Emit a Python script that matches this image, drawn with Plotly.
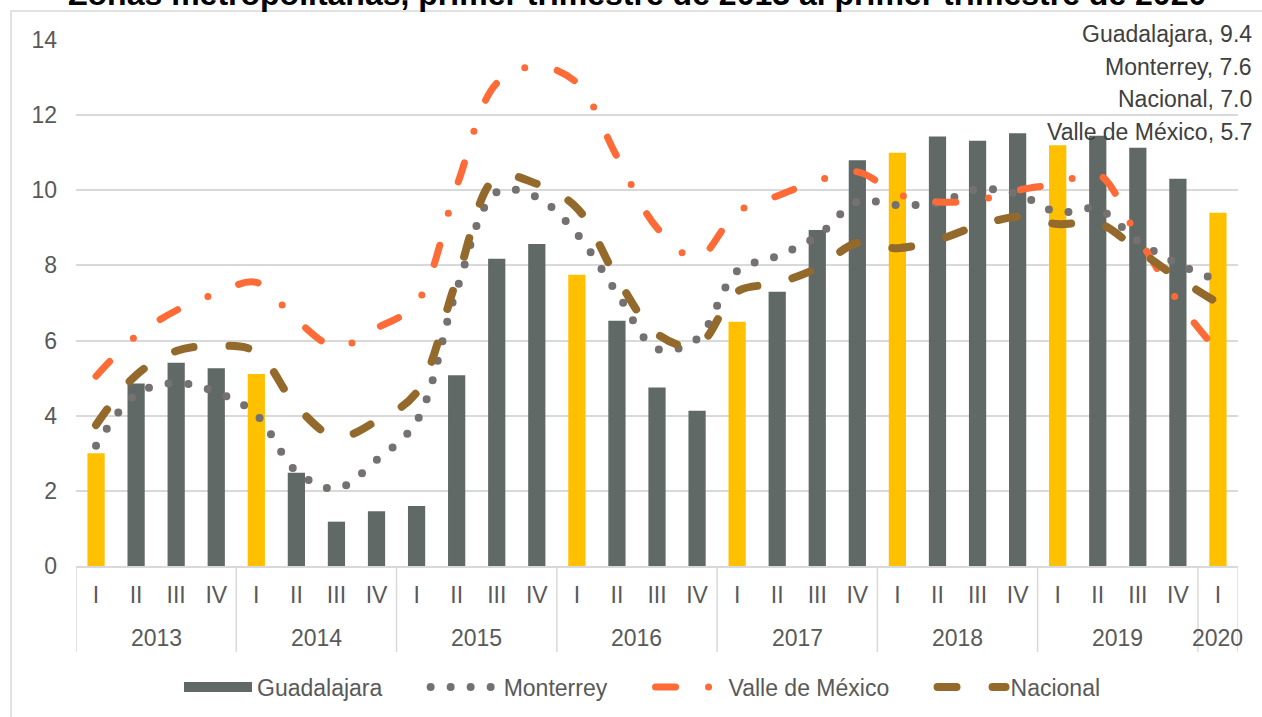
import plotly.graph_objects as go

# ---- data ----
years = ["2013"] * 4 + ["2014"] * 4 + ["2015"] * 4 + ["2016"] * 4 + ["2017"] * 4 + ["2018"] * 4 + ["2019"] * 4 + ["2020"]
quarters = ["I", "II", "III", "IV"] * 7 + ["I"]

guadalajara = [3.0, 4.86, 5.41, 5.26, 5.11, 2.48, 1.18, 1.46, 1.6, 5.08, 8.18, 8.57,
               7.75, 6.53, 4.75, 4.13, 6.5, 7.3, 8.94, 10.8, 11.0, 11.43, 11.32, 11.52,
               11.2, 11.45, 11.13, 10.31, 9.4]
monterrey = [3.2, 4.57, 4.87, 4.63, 4.03, 2.52, 2.06, 2.82, 3.85, 7.35, 9.95, 9.82,
             8.84, 7.27, 5.78, 6.04, 7.85, 8.25, 8.78, 9.69, 9.61, 9.66, 10.03, 9.9,
             9.42, 9.5, 8.65, 8.04, 7.6]
valle = [5.05, 6.12, 6.8, 7.25, 7.55, 6.55, 5.83, 6.33, 7.0, 10.1, 12.85, 13.3,
         12.86, 10.9, 9.0, 8.2, 9.42, 9.85, 10.25, 10.49, 9.9, 9.69, 9.74, 10.0,
         10.18, 10.43, 8.76, 7.05, 5.7]
nacional = [3.75, 5.08, 5.72, 5.86, 5.7, 4.26, 3.43, 3.86, 4.62, 7.61, 10.35, 10.17,
            9.53, 7.67, 6.18, 5.86, 7.3, 7.53, 7.93, 8.6, 8.46, 8.68, 9.05, 9.29,
            9.1, 9.13, 8.41, 7.67, 7.0]

# first-quarter bars that are highlighted in yellow in the reference (2015 I is not)
highlight_years = ["2013", "2014", "2016", "2017", "2018", "2019", "2020"]

title_text = "Zonas metropolitanas, primer trimestre de 2013 al primer trimestre de 2020"

# ---- styles ----
GRAY_BAR = "#606966"
YELLOW = "#FFC000"
C_MTY = "#767171"
C_VALLE = "#FF6B37"
C_NAC = "#946A2C"
TXT = "#595959"
GRID = "#D9D9D9"
FONT = "Liberation Sans, Arial, sans-serif"
NB = "\u00a0"

idx = list(range(len(quarters)))
bar_colors = [YELLOW if (q == "I" and y in highlight_years) else GRAY_BAR
              for y, q in zip(years, quarters)]

fig = go.Figure()
fig.add_trace(go.Bar(x=idx, y=guadalajara, name="Guadalajara", showlegend=False,
                     legendgroup="gdl", marker=dict(color=bar_colors, line=dict(width=0))))
# legend proxy for the bar series (dark swatch, as in the reference)
fig.add_trace(go.Scatter(x=[None], y=[None], name="Guadalajara" + NB * 6, mode="lines",
                         legendgroup="gdl", line=dict(color=GRAY_BAR, width=13)))
fig.add_trace(go.Scatter(x=idx, y=monterrey, name="Monterrey" + NB * 6, mode="lines",
                         line=dict(color=C_MTY, width=8, dash="0px,20px", shape="spline", smoothing=1)))
fig.add_trace(go.Scatter(x=idx, y=valle, name="Valle de México" + NB * 6, mode="lines",
                         line=dict(color=C_VALLE, width=7, dash="20px,33px,0px,33px", shape="spline", smoothing=1)))
fig.add_trace(go.Scatter(x=idx, y=nacional, name="Nacional", mode="lines",
                         line=dict(color=C_NAC, width=8, dash="19px,36px", shape="spline", smoothing=1)))

# plot area: x 76..1238, y 40..566
L, R, T, B = 76, 24, 40, 151
W, H = 1262, 717
pw, ph = W - L - R, H - T - B


def px_x(p):
    return (p - L) / pw


def px_y(p):
    return (T + ph - p) / ph


annotations = [
    dict(text="<b>" + title_text + "</b>", x=px_x(637), y=px_y(-6), xref="paper", yref="paper",
         xanchor="center", yanchor="middle", showarrow=False,
         font=dict(family=FONT, size=32, color="#000000")),
]
end_labels = [("Guadalajara", guadalajara[-1], 33.7, "white"),
              ("Monterrey", monterrey[-1], 67, None),
              ("Nacional", nacional[-1], 98.7, None),
              ("Valle de México", valle[-1], 132, None)]
for name, val, yc, bg in end_labels:
    a = dict(text=f"{name}, {val:.1f}", x=px_x(1253), y=px_y(yc), xref="paper", yref="paper",
             xanchor="right", yanchor="middle", showarrow=False, borderpad=0,
             font=dict(family=FONT, size=23, color="#404040"))
    if bg:
        a["bgcolor"] = bg
    annotations.append(a)

# year group labels and dividers
groups = []
for i, yv in enumerate(years):
    if not groups or groups[-1][0] != yv:
        groups.append([yv, i, i])
    else:
        groups[-1][2] = i
shapes = [dict(type="rect", xref="paper", yref="paper",
               x0=px_x(11), y0=-2, x1=3, y1=px_y(11),
               line=dict(color=GRID, width=1.5), fillcolor="rgba(0,0,0,0)", layer="below")]
bounds = [groups[0][1] - 0.5] + [g[2] + 0.5 for g in groups]
for b in bounds:
    shapes.append(dict(type="line", xref="x", yref="paper", x0=b, x1=b, y0=0, y1=px_y(652),
                       line=dict(color=GRID, width=1.5), layer="below"))
for yv, i0, i1 in groups:
    annotations.append(dict(text=yv, x=(i0 + i1) / 2, y=px_y(638), xref="x", yref="paper",
                            xanchor="center", yanchor="middle", showarrow=False,
                            font=dict(family=FONT, size=23, color=TXT)))

fig.update_layout(
    width=W, height=H,
    margin=dict(l=L, r=R, t=T, b=B, autoexpand=False),
    paper_bgcolor="white", plot_bgcolor="white",
    font=dict(family=FONT, size=23, color=TXT),
    bargap=0.57,
    showlegend=True,
    legend=dict(orientation="h", x=px_x(179), xanchor="left", y=px_y(687), yanchor="middle",
                font=dict(family=FONT, size=23, color=TXT), traceorder="normal",
                itemwidth=68),
    annotations=annotations,
    shapes=shapes,
)
fig.update_yaxes(range=[0, 14], dtick=2, showgrid=True, gridcolor=GRID, gridwidth=1.5,
                 zeroline=False, showline=False, ticks="", ticklabelstandoff=18,
                 tickfont=dict(family=FONT, size=23, color=TXT))
fig.update_xaxes(range=[-0.5, len(quarters) - 0.5], tickmode="array", tickvals=idx, ticktext=quarters,
                 showline=True, linecolor=GRID, linewidth=1.5, zeroline=False,
                 ticks="", showgrid=False, ticklabelstandoff=8,
                 tickfont=dict(family=FONT, size=23, color=TXT))

post = """
document.documentElement.style.margin='0';
document.body.style.margin='0';
document.body.style.overflow='hidden';
var gd = document.getElementById('{plot_id}');
function rc(){
  gd.querySelectorAll('path.js-line').forEach(function(p){
    var s = (p.style.stroke || '').replace(/\\s/g, '');
    var swatch = (s.indexOf('96,105,102') >= 0) || (s.toLowerCase() === '#606966');
    p.style.strokeLinecap = swatch ? 'butt' : 'round';
  });
}
rc();
if (gd.on) { gd.on('plotly_afterplot', rc); }
"""
fig.write_html("out.html", post_script=post, config={"displayModeBar": False})
